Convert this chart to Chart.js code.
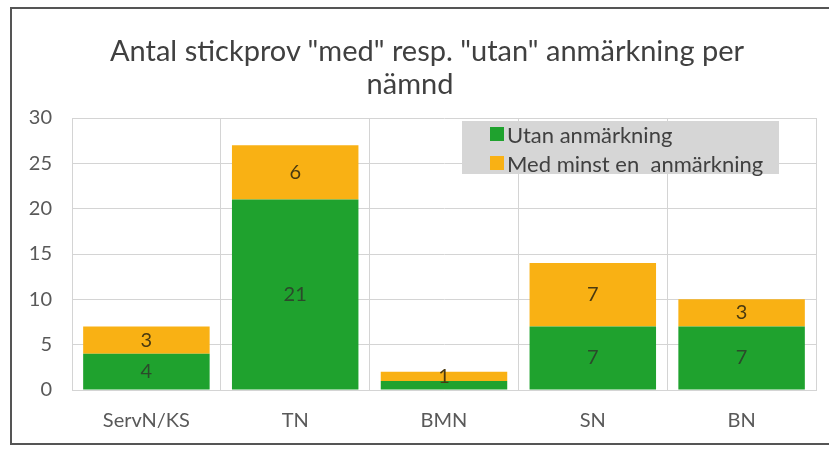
<!DOCTYPE html>
<html>
<head>
<meta charset="utf-8">
<script src="https://cdn.jsdelivr.net/npm/chart.js@4.4.1/dist/chart.umd.min.js"></script>
<style>
  html, body { margin: 0; padding: 0; background: #fff; }
  #wrap { position: relative; width: 829px; height: 449px; overflow: hidden; }
  #frame { position: absolute; left: 10px; top: 7px; width: 830px; height: 438px;
           border: 2px solid #555; box-sizing: border-box; }
  #title { position: absolute; left: 110px; width: 600px; top: 34px; text-align: center;
           font-family: Lato, sans-serif; font-size: 29px; line-height: 32.5px; color: #404040; white-space: nowrap; }
  #legend { position: absolute; left: 462px; top: 121px; width: 317px; height: 53px;
            background: #d6d6d6; font-family: Lato, sans-serif; font-size: 22px; color: #404040; }
  .row { position: absolute; left: 28px; height: 26px; display: flex; align-items: center; white-space: pre; }
  .sw { width: 14px; height: 14px; margin-right: 3px; }
</style>
</head>
<body>
<div id="wrap">
  <canvas id="chart" width="829" height="449"></canvas>
  <div id="frame"></div>
  <div id="title">Antal stickprov "med" resp. "utan" anmärkning per<br>nämnd</div>
  <div id="legend">
    <div class="row" style="top:0px"><span class="sw" style="background:#1fa22e"></span>Utan anmärkning</div>
    <div class="row" style="top:29px"><span class="sw" style="background:#f9b114"></span>Med minst en  anmärkning</div>
  </div>
</div>
<script>
const categories = ['ServN/KS', 'TN', 'BMN', 'SN', 'BN'];
const utanValues = [4, 21, 1, 7, 7];
const medValues = [3, 6, 1, 7, 3];
const yTicks = [0, 5, 10, 15, 20, 25, 30];

// draw the numbers in the middle of each segment
const barLabels = {
    id: 'barLabels',
    afterDatasetsDraw(chart) {
        const ctx = chart.ctx;
        ctx.save();
        ctx.font = '20px Lato, sans-serif';
        ctx.textAlign = 'center';
        ctx.textBaseline = 'middle';
        chart.data.datasets.forEach((ds, di) => {
            chart.getDatasetMeta(di).data.forEach((bar, i) => {
                const v = ds.data[i];
                if (di === 0 && v <= 1) return;
                ctx.fillStyle = di === 0 ? '#2b4a2b' : '#4a3a10';
                ctx.fillText(v, bar.x, (bar.y + bar.base) / 2);
            });
        });
        ctx.restore();
    }
};

new Chart(document.getElementById('chart'), {
    type: 'bar',
    data: {
        labels: categories,
        datasets: [
            { label: 'Utan anmärkning', data: utanValues, backgroundColor: '#1fa22e' },
            { label: 'Med minst en  anmärkning', data: medValues, backgroundColor: '#f9b114' }
        ]
    },
    options: {
        responsive: false,
        animation: false,
        layout: { padding: { left: 12, right: 13, top: 118, bottom: 10 } },
        datasets: { bar: { barPercentage: 0.85, categoryPercentage: 1 } },
        plugins: {
            legend: { display: false },
            tooltip: { enabled: false },
            title: { display: false }
        },
        scales: {
            x: {
                stacked: true,
                grid: { color: '#d4d4d4', drawTicks: false, offset: true },
                border: { color: '#d4d4d4' },
                ticks: { color: '#595959', font: { family: 'Lato', size: 20 }, padding: 19 },
                afterFit: s => { s.height = 49; }
            },
            y: {
                stacked: true,
                min: 0,
                max: 30,
                afterBuildTicks: s => { s.ticks = yTicks.map(v => ({ value: v })); },
                grid: { color: '#d4d4d4', drawTicks: false },
                border: { color: '#d4d4d4' },
                ticks: { color: '#595959', font: { family: 'Lato', size: 20 }, padding: 20 },
                afterFit: s => { s.width = 60; }
            }
        }
    },
    plugins: [barLabels]
});
</script>
</body>
</html>
